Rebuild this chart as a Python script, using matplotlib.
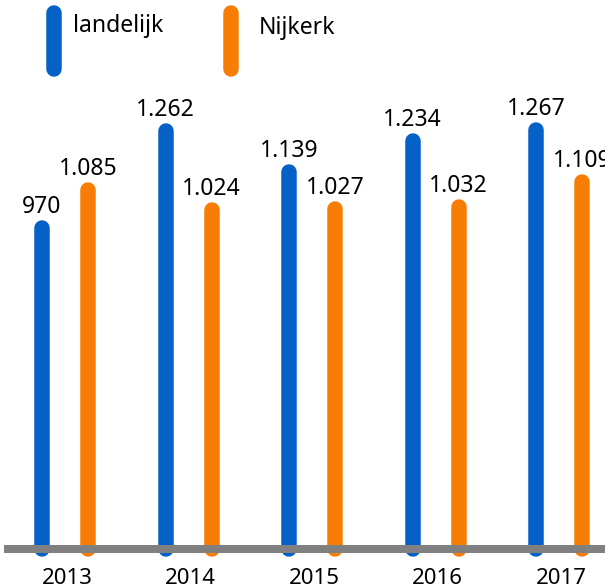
import matplotlib
matplotlib.use("Agg")
import matplotlib.pyplot as plt

# Data
years = ["2013", "2014", "2015", "2016", "2017"]
landelijk = [970, 1262, 1139, 1234, 1267]
nijkerk = [1085, 1024, 1027, 1032, 1109]
series_names = ["landelijk", "Nijkerk"]

BLUE = "#0560c8"
ORANGE = "#f87d05"
GREY = "#808080"
TEXT = "#000000"

W, H, DPI = 605, 588, 100
PT = 72.0 / DPI  # points per pixel

plt.rcParams["font.family"] = ["Noto Sans", "DejaVu Sans"]

fig = plt.figure(figsize=(W / DPI, H / DPI), dpi=DPI)
ax = fig.add_axes([0, 0, 1, 1])
ax.set_axis_off()

# axis ranges: group spacing ~123.5 px, zero line at y=549 px, 0.331 px per unit
ax.set_xlim(-65 / 123.5, (W - 65) / 123.5)
ax.set_ylim(-(H - 549) / 0.331, 549 / 0.331)

offset = 23 / 123.5
bar_lw = 15.5 * PT


def fmt(v):
    return f"{v:,}".replace(",", ".")


for i, (a, b) in enumerate(zip(landelijk, nijkerk)):
    for x, v, c in ((i - offset, a, BLUE), (i + offset, b, ORANGE)):
        ax.plot([x, x], [0, v], color=c, lw=bar_lw, solid_capstyle="round",
                zorder=2)
        ax.annotate(fmt(v), (x, v), xytext=(0, 15 * PT),
                    textcoords="offset points", ha="center", va="baseline",
                    fontsize=16.5, color=TEXT, annotation_clip=False)
    ax.text(i + 2 / 123.5, -(584 - 549) / 0.331, years[i], ha="center",
            va="baseline", fontsize=16, color=TEXT)

# baseline
ax.axhline(0, xmin=8 / W, xmax=1, color=GREY, lw=8 * PT, zorder=3)

# legend
for xc, tx, base, c, name in ((54, 73, 32, BLUE, series_names[0]),
                              (231, 259, 34, ORANGE, series_names[1])):
    ax.plot([xc / W, xc / W], [1 - 12.5 / H, 1 - 68.5 / H], color=c,
            lw=bar_lw, solid_capstyle="round", transform=ax.transAxes,
            clip_on=False)
    ax.text(tx / W, 1 - base / H, name, transform=ax.transAxes,
            ha="left", va="baseline", fontsize=16.5, color=TEXT)

fig.savefig("out.png", dpi=DPI)
